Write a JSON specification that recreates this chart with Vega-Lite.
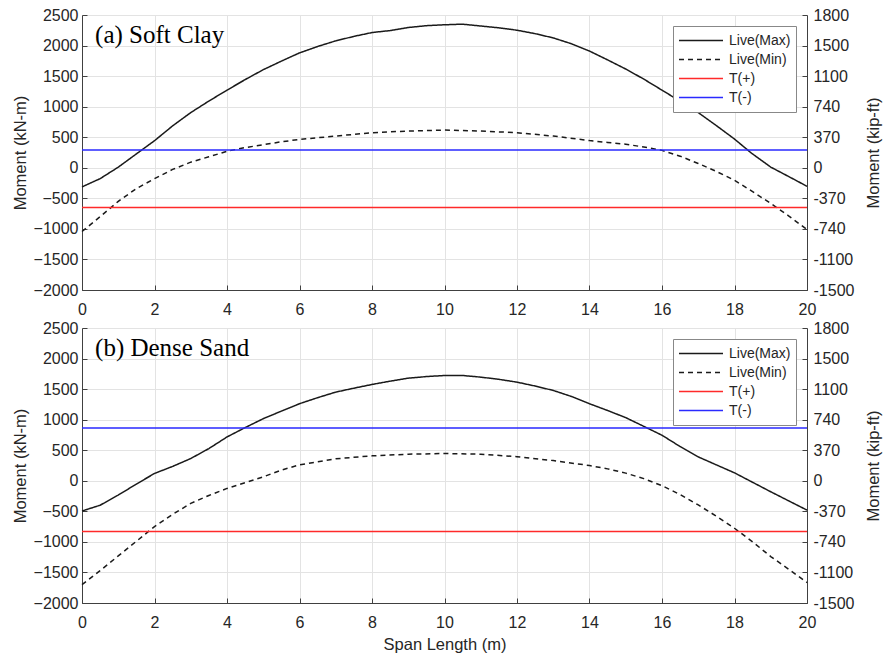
{
  "$schema": "https://vega.github.io/schema/vega-lite/v6.json",
  "background": "white",
  "padding": {"left": 12, "top": 7, "right": 5, "bottom": 5},
  "spacing": 3,
  "config": {
    "view": {"stroke": null},
    "font": "Liberation Sans",
    "axis": {
      "labelFont": "Liberation Sans", "labelFontSize": 16, "labelColor": "#262626",
      "titleFont": "Liberation Sans", "titleFontSize": 16.5, "titleFontWeight": "normal", "titleColor": "#262626",
      "domainColor": "#404040", "tickColor": "#404040", "gridColor": "#e3e3e3",
      "tickSize": -5, "labelFlush": false, "labelOverlap": false, "format": "d"
    },
    "legend": {
      "orient": "top-right", "offset": 11, "padding": 5, "strokeColor": "#888888", "fillColor": "white",
      "symbolType": "stroke", "symbolSize": 1936, "symbolStrokeWidth": 1.5, "clipHeight": 19,
      "labelFont": "Liberation Sans", "labelFontSize": 14, "labelColor": "#262626", "labelOffset": 5,
      "rowPadding": 0, "cornerRadius": 0
    }
  },
  "datasets": {
    "live": [
      {"panel": "a", "series": "Live(Max)", "x": 0, "m": -313},
      {"panel": "a", "series": "Live(Max)", "x": 0.5, "m": -178},
      {"panel": "a", "series": "Live(Max)", "x": 1, "m": 10},
      {"panel": "a", "series": "Live(Max)", "x": 1.5, "m": 227},
      {"panel": "a", "series": "Live(Max)", "x": 2, "m": 443},
      {"panel": "a", "series": "Live(Max)", "x": 2.5, "m": 686},
      {"panel": "a", "series": "Live(Max)", "x": 3, "m": 903},
      {"panel": "a", "series": "Live(Max)", "x": 3.5, "m": 1092},
      {"panel": "a", "series": "Live(Max)", "x": 4, "m": 1270},
      {"panel": "a", "series": "Live(Max)", "x": 4.5, "m": 1443},
      {"panel": "a", "series": "Live(Max)", "x": 5, "m": 1605},
      {"panel": "a", "series": "Live(Max)", "x": 5.5, "m": 1745},
      {"panel": "a", "series": "Live(Max)", "x": 6, "m": 1880},
      {"panel": "a", "series": "Live(Max)", "x": 6.5, "m": 1985},
      {"panel": "a", "series": "Live(Max)", "x": 7, "m": 2077},
      {"panel": "a", "series": "Live(Max)", "x": 7.5, "m": 2150},
      {"panel": "a", "series": "Live(Max)", "x": 8, "m": 2213},
      {"panel": "a", "series": "Live(Max)", "x": 8.5, "m": 2245},
      {"panel": "a", "series": "Live(Max)", "x": 9, "m": 2295},
      {"panel": "a", "series": "Live(Max)", "x": 9.5, "m": 2325},
      {"panel": "a", "series": "Live(Max)", "x": 10, "m": 2340},
      {"panel": "a", "series": "Live(Max)", "x": 10.5, "m": 2350},
      {"panel": "a", "series": "Live(Max)", "x": 11, "m": 2320},
      {"panel": "a", "series": "Live(Max)", "x": 11.5, "m": 2290},
      {"panel": "a", "series": "Live(Max)", "x": 12, "m": 2251},
      {"panel": "a", "series": "Live(Max)", "x": 12.5, "m": 2195},
      {"panel": "a", "series": "Live(Max)", "x": 13, "m": 2125},
      {"panel": "a", "series": "Live(Max)", "x": 13.5, "m": 2030},
      {"panel": "a", "series": "Live(Max)", "x": 14, "m": 1910},
      {"panel": "a", "series": "Live(Max)", "x": 14.5, "m": 1765},
      {"panel": "a", "series": "Live(Max)", "x": 15, "m": 1616},
      {"panel": "a", "series": "Live(Max)", "x": 15.5, "m": 1450},
      {"panel": "a", "series": "Live(Max)", "x": 16, "m": 1270},
      {"panel": "a", "series": "Live(Max)", "x": 16.5, "m": 1090},
      {"panel": "a", "series": "Live(Max)", "x": 17, "m": 903},
      {"panel": "a", "series": "Live(Max)", "x": 17.5, "m": 690},
      {"panel": "a", "series": "Live(Max)", "x": 18, "m": 470},
      {"panel": "a", "series": "Live(Max)", "x": 18.46, "m": 243},
      {"panel": "a", "series": "Live(Max)", "x": 19, "m": 11},
      {"panel": "a", "series": "Live(Max)", "x": 19.5, "m": -145},
      {"panel": "a", "series": "Live(Max)", "x": 20, "m": -303},
      {"panel": "a", "series": "Live(Min)", "x": 0, "m": -1043},
      {"panel": "a", "series": "Live(Min)", "x": 0.5, "m": -800},
      {"panel": "a", "series": "Live(Min)", "x": 1, "m": -550},
      {"panel": "a", "series": "Live(Min)", "x": 1.5, "m": -340},
      {"panel": "a", "series": "Live(Min)", "x": 2, "m": -178},
      {"panel": "a", "series": "Live(Min)", "x": 2.5, "m": -27},
      {"panel": "a", "series": "Live(Min)", "x": 3, "m": 92},
      {"panel": "a", "series": "Live(Min)", "x": 3.5, "m": 180},
      {"panel": "a", "series": "Live(Min)", "x": 4, "m": 270},
      {"panel": "a", "series": "Live(Min)", "x": 4.5, "m": 330},
      {"panel": "a", "series": "Live(Min)", "x": 5, "m": 378},
      {"panel": "a", "series": "Live(Min)", "x": 5.5, "m": 425},
      {"panel": "a", "series": "Live(Min)", "x": 6, "m": 464},
      {"panel": "a", "series": "Live(Min)", "x": 7, "m": 519},
      {"panel": "a", "series": "Live(Min)", "x": 8, "m": 574},
      {"panel": "a", "series": "Live(Min)", "x": 9, "m": 601},
      {"panel": "a", "series": "Live(Min)", "x": 10, "m": 617},
      {"panel": "a", "series": "Live(Min)", "x": 11, "m": 601},
      {"panel": "a", "series": "Live(Min)", "x": 12, "m": 574},
      {"panel": "a", "series": "Live(Min)", "x": 13, "m": 519},
      {"panel": "a", "series": "Live(Min)", "x": 14, "m": 445},
      {"panel": "a", "series": "Live(Min)", "x": 14.5, "m": 415},
      {"panel": "a", "series": "Live(Min)", "x": 15, "m": 385},
      {"panel": "a", "series": "Live(Min)", "x": 15.5, "m": 340},
      {"panel": "a", "series": "Live(Min)", "x": 16, "m": 285},
      {"panel": "a", "series": "Live(Min)", "x": 16.5, "m": 190},
      {"panel": "a", "series": "Live(Min)", "x": 17, "m": 70},
      {"panel": "a", "series": "Live(Min)", "x": 17.5, "m": -60},
      {"panel": "a", "series": "Live(Min)", "x": 18, "m": -205},
      {"panel": "a", "series": "Live(Min)", "x": 18.5, "m": -390},
      {"panel": "a", "series": "Live(Min)", "x": 19, "m": -584},
      {"panel": "a", "series": "Live(Min)", "x": 19.5, "m": -790},
      {"panel": "a", "series": "Live(Min)", "x": 20, "m": -1010},
      {"panel": "b", "series": "Live(Max)", "x": 0, "m": -495},
      {"panel": "b", "series": "Live(Max)", "x": 0.5, "m": -400},
      {"panel": "b", "series": "Live(Max)", "x": 1, "m": -234},
      {"panel": "b", "series": "Live(Max)", "x": 1.5, "m": -54},
      {"panel": "b", "series": "Live(Max)", "x": 2, "m": 120},
      {"panel": "b", "series": "Live(Max)", "x": 2.5, "m": 235},
      {"panel": "b", "series": "Live(Max)", "x": 3, "m": 364},
      {"panel": "b", "series": "Live(Max)", "x": 3.5, "m": 527},
      {"panel": "b", "series": "Live(Max)", "x": 4, "m": 717},
      {"panel": "b", "series": "Live(Max)", "x": 4.5, "m": 870},
      {"panel": "b", "series": "Live(Max)", "x": 5, "m": 1016},
      {"panel": "b", "series": "Live(Max)", "x": 5.5, "m": 1140},
      {"panel": "b", "series": "Live(Max)", "x": 6, "m": 1261},
      {"panel": "b", "series": "Live(Max)", "x": 6.5, "m": 1360},
      {"panel": "b", "series": "Live(Max)", "x": 7, "m": 1451},
      {"panel": "b", "series": "Live(Max)", "x": 7.5, "m": 1515},
      {"panel": "b", "series": "Live(Max)", "x": 8, "m": 1576},
      {"panel": "b", "series": "Live(Max)", "x": 8.5, "m": 1630},
      {"panel": "b", "series": "Live(Max)", "x": 9, "m": 1679},
      {"panel": "b", "series": "Live(Max)", "x": 9.5, "m": 1705},
      {"panel": "b", "series": "Live(Max)", "x": 10, "m": 1723},
      {"panel": "b", "series": "Live(Max)", "x": 10.5, "m": 1723},
      {"panel": "b", "series": "Live(Max)", "x": 11, "m": 1696},
      {"panel": "b", "series": "Live(Max)", "x": 11.5, "m": 1660},
      {"panel": "b", "series": "Live(Max)", "x": 12, "m": 1614},
      {"panel": "b", "series": "Live(Max)", "x": 12.5, "m": 1550},
      {"panel": "b", "series": "Live(Max)", "x": 13, "m": 1478},
      {"panel": "b", "series": "Live(Max)", "x": 13.5, "m": 1380},
      {"panel": "b", "series": "Live(Max)", "x": 14, "m": 1261},
      {"panel": "b", "series": "Live(Max)", "x": 14.5, "m": 1150},
      {"panel": "b", "series": "Live(Max)", "x": 15, "m": 1033},
      {"panel": "b", "series": "Live(Max)", "x": 15.5, "m": 890},
      {"panel": "b", "series": "Live(Max)", "x": 16, "m": 745},
      {"panel": "b", "series": "Live(Max)", "x": 16.5, "m": 560},
      {"panel": "b", "series": "Live(Max)", "x": 17, "m": 391},
      {"panel": "b", "series": "Live(Max)", "x": 17.5, "m": 260},
      {"panel": "b", "series": "Live(Max)", "x": 18, "m": 130},
      {"panel": "b", "series": "Live(Max)", "x": 18.5, "m": -25},
      {"panel": "b", "series": "Live(Max)", "x": 19, "m": -180},
      {"panel": "b", "series": "Live(Max)", "x": 19.5, "m": -330},
      {"panel": "b", "series": "Live(Max)", "x": 20, "m": -480},
      {"panel": "b", "series": "Live(Min)", "x": 0, "m": -1700},
      {"panel": "b", "series": "Live(Min)", "x": 0.5, "m": -1470},
      {"panel": "b", "series": "Live(Min)", "x": 1, "m": -1230},
      {"panel": "b", "series": "Live(Min)", "x": 1.5, "m": -990},
      {"panel": "b", "series": "Live(Min)", "x": 2, "m": -750},
      {"panel": "b", "series": "Live(Min)", "x": 2.5, "m": -550},
      {"panel": "b", "series": "Live(Min)", "x": 3, "m": -370},
      {"panel": "b", "series": "Live(Min)", "x": 3.5, "m": -240},
      {"panel": "b", "series": "Live(Min)", "x": 4, "m": -125},
      {"panel": "b", "series": "Live(Min)", "x": 4.5, "m": -30},
      {"panel": "b", "series": "Live(Min)", "x": 5, "m": 65},
      {"panel": "b", "series": "Live(Min)", "x": 5.5, "m": 175},
      {"panel": "b", "series": "Live(Min)", "x": 6, "m": 260},
      {"panel": "b", "series": "Live(Min)", "x": 7, "m": 360},
      {"panel": "b", "series": "Live(Min)", "x": 8, "m": 408},
      {"panel": "b", "series": "Live(Min)", "x": 9, "m": 435},
      {"panel": "b", "series": "Live(Min)", "x": 10, "m": 446},
      {"panel": "b", "series": "Live(Min)", "x": 11, "m": 435},
      {"panel": "b", "series": "Live(Min)", "x": 12, "m": 395},
      {"panel": "b", "series": "Live(Min)", "x": 13, "m": 330},
      {"panel": "b", "series": "Live(Min)", "x": 14, "m": 250},
      {"panel": "b", "series": "Live(Min)", "x": 14.5, "m": 195},
      {"panel": "b", "series": "Live(Min)", "x": 15, "m": 125},
      {"panel": "b", "series": "Live(Min)", "x": 15.5, "m": 35},
      {"panel": "b", "series": "Live(Min)", "x": 16, "m": -80},
      {"panel": "b", "series": "Live(Min)", "x": 16.5, "m": -225},
      {"panel": "b", "series": "Live(Min)", "x": 17, "m": -395},
      {"panel": "b", "series": "Live(Min)", "x": 17.5, "m": -580},
      {"panel": "b", "series": "Live(Min)", "x": 18, "m": -777},
      {"panel": "b", "series": "Live(Min)", "x": 18.5, "m": -1000},
      {"panel": "b", "series": "Live(Min)", "x": 19, "m": -1240},
      {"panel": "b", "series": "Live(Min)", "x": 19.5, "m": -1450},
      {"panel": "b", "series": "Live(Min)", "x": 20, "m": -1665}
    ],
    "limits": [
      {"panel": "a", "series": "T(+)", "x": 0, "m": -650},
      {"panel": "a", "series": "T(+)", "x": 20, "m": -650},
      {"panel": "a", "series": "T(-)", "x": 0, "m": 290},
      {"panel": "a", "series": "T(-)", "x": 20, "m": 290},
      {"panel": "b", "series": "T(+)", "x": 0, "m": -830},
      {"panel": "b", "series": "T(+)", "x": 20, "m": -830},
      {"panel": "b", "series": "T(-)", "x": 0, "m": 865},
      {"panel": "b", "series": "T(-)", "x": 20, "m": 865}
    ],
    "titles": [
      {"panel": "a", "label": "(a) Soft Clay"},
      {"panel": "b", "label": "(b) Dense Sand"}
    ]
  },
  "resolve": {"scale": {"color": "independent", "strokeDash": "independent"}, "legend": {"color": "independent", "strokeDash": "independent"}},
  "vconcat": [
    {
      "width": 725, "height": 275,
      "resolve": {"scale": {"y": "independent"}},
      "layer": [
        {
          "data": {"name": "live"},
          "transform": [{"filter": "datum.panel == 'a'"}],
          "mark": {"type": "line", "strokeWidth": 1.5},
          "encoding": {
            "x": {"field": "x", "type": "quantitative", "scale": {"domain": [0, 20], "nice": false},
                  "axis": {"values": [0,2,4,6,8,10,12,14,16,18,20], "title": null, "grid": true, "labelPadding": 16}},
            "y": {"field": "m", "type": "quantitative", "scale": {"domain": [-2000, 2500], "nice": false},
                  "axis": {"orient": "left", "values": [-2000,-1500,-1000,-500,0,500,1000,1500,2000,2500], "title": "Moment (kN-m)", "grid": true, "labelPadding": 9, "titlePadding": 5}},
            "color": {"field": "series", "type": "nominal", "title": null,
                      "scale": {"domain": ["Live(Max)", "Live(Min)", "T(+)", "T(-)"], "range": ["#1a1a1a", "#1a1a1a", "#ff2a2a", "#2a2aff"]}},
            "strokeDash": {"field": "series", "type": "nominal", "title": null,
                           "scale": {"domain": ["Live(Max)", "Live(Min)", "T(+)", "T(-)"], "range": [[1, 0], [5, 4], [1, 0], [1, 0]]}}
          }
        },
        {
          "data": {"name": "limits"},
          "transform": [{"filter": "datum.panel == 'a'"}],
          "mark": {"type": "line", "strokeWidth": 1.5},
          "encoding": {
            "x": {"field": "x", "type": "quantitative"},
            "y": {"field": "m", "type": "quantitative", "scale": {"domain": [-2000, 2500], "nice": false},
                  "axis": {"orient": "right", "values": [-2000,-1500,-1000,-500,0,500,1000,1500,2000,2500], "title": "Moment (kip-ft)", "titleAngle": 270, "grid": false, "labelPadding": 11, "titlePadding": 28,
                           "labelExpr": "datum.value == 2500 ? '1800' : datum.value == 2000 ? '1500' : datum.value == 1500 ? '1100' : datum.value == 1000 ? '740' : datum.value == 500 ? '370' : datum.value == 0 ? '0' : datum.value == -500 ? '-370' : datum.value == -1000 ? '-740' : datum.value == -1500 ? '-1100' : '-1500'"}},
            "color": {"field": "series", "type": "nominal", "title": null,
                      "scale": {"domain": ["Live(Max)", "Live(Min)", "T(+)", "T(-)"], "range": ["#1a1a1a", "#1a1a1a", "#ff2a2a", "#2a2aff"]}},
            "strokeDash": {"field": "series", "type": "nominal", "title": null,
                           "scale": {"domain": ["Live(Max)", "Live(Min)", "T(+)", "T(-)"], "range": [[1, 0], [5, 4], [1, 0], [1, 0]]}}
          }
        },
        {
          "data": {"name": "titles"},
          "transform": [{"filter": "datum.panel == 'a'"}],
          "mark": {"type": "text", "font": "Liberation Serif", "fontSize": 25, "align": "left", "baseline": "alphabetic", "color": "black"},
          "encoding": {
            "x": {"datum": 0.36, "type": "quantitative"},
            "y": {"datum": 2040, "type": "quantitative", "scale": {"domain": [-2000, 2500], "nice": false}, "axis": null},
            "text": {"field": "label"}
          }
        }
      ]
    },
    {
      "width": 725, "height": 275,
      "resolve": {"scale": {"y": "independent"}},
      "layer": [
        {
          "data": {"name": "live"},
          "transform": [{"filter": "datum.panel == 'b'"}],
          "mark": {"type": "line", "strokeWidth": 1.5},
          "encoding": {
            "x": {"field": "x", "type": "quantitative", "scale": {"domain": [0, 20], "nice": false},
                  "axis": {"values": [0,2,4,6,8,10,12,14,16,18,20], "title": "Span Length (m)", "grid": true, "labelPadding": 16, "titlePadding": 6}},
            "y": {"field": "m", "type": "quantitative", "scale": {"domain": [-2000, 2500], "nice": false},
                  "axis": {"orient": "left", "values": [-2000,-1500,-1000,-500,0,500,1000,1500,2000,2500], "title": "Moment (kN-m)", "grid": true, "labelPadding": 9, "titlePadding": 5}},
            "color": {"field": "series", "type": "nominal", "title": null,
                      "scale": {"domain": ["Live(Max)", "Live(Min)", "T(+)", "T(-)"], "range": ["#1a1a1a", "#1a1a1a", "#ff2a2a", "#2a2aff"]}},
            "strokeDash": {"field": "series", "type": "nominal", "title": null,
                           "scale": {"domain": ["Live(Max)", "Live(Min)", "T(+)", "T(-)"], "range": [[1, 0], [5, 4], [1, 0], [1, 0]]}}
          }
        },
        {
          "data": {"name": "limits"},
          "transform": [{"filter": "datum.panel == 'b'"}],
          "mark": {"type": "line", "strokeWidth": 1.5},
          "encoding": {
            "x": {"field": "x", "type": "quantitative"},
            "y": {"field": "m", "type": "quantitative", "scale": {"domain": [-2000, 2500], "nice": false},
                  "axis": {"orient": "right", "values": [-2000,-1500,-1000,-500,0,500,1000,1500,2000,2500], "title": "Moment (kip-ft)", "titleAngle": 270, "grid": false, "labelPadding": 11, "titlePadding": 28,
                           "labelExpr": "datum.value == 2500 ? '1800' : datum.value == 2000 ? '1500' : datum.value == 1500 ? '1100' : datum.value == 1000 ? '740' : datum.value == 500 ? '370' : datum.value == 0 ? '0' : datum.value == -500 ? '-370' : datum.value == -1000 ? '-740' : datum.value == -1500 ? '-1100' : '-1500'"}},
            "color": {"field": "series", "type": "nominal", "title": null,
                      "scale": {"domain": ["Live(Max)", "Live(Min)", "T(+)", "T(-)"], "range": ["#1a1a1a", "#1a1a1a", "#ff2a2a", "#2a2aff"]}},
            "strokeDash": {"field": "series", "type": "nominal", "title": null,
                           "scale": {"domain": ["Live(Max)", "Live(Min)", "T(+)", "T(-)"], "range": [[1, 0], [5, 4], [1, 0], [1, 0]]}}
          }
        },
        {
          "data": {"name": "titles"},
          "transform": [{"filter": "datum.panel == 'b'"}],
          "mark": {"type": "text", "font": "Liberation Serif", "fontSize": 25, "align": "left", "baseline": "alphabetic", "color": "black"},
          "encoding": {
            "x": {"datum": 0.36, "type": "quantitative"},
            "y": {"datum": 2040, "type": "quantitative", "scale": {"domain": [-2000, 2500], "nice": false}, "axis": null},
            "text": {"field": "label"}
          }
        }
      ]
    }
  ]
}
